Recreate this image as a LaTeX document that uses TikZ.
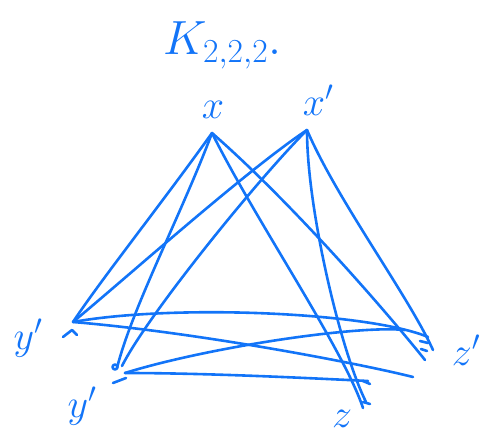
\RequirePackage{fix-cm}
\documentclass[tikz,border=0pt]{standalone}
\definecolor{ink}{RGB}{18,116,248}
\begin{document}
\begin{tikzpicture}[x=1pt,y=-1pt,
  edge/.style={draw=ink,line width=2.6pt,line cap=round,line join=round},
  penmark/.style={draw=ink,line width=2.6pt,line cap=round,line join=round},
  lab/.style={text=ink,inner sep=0pt,font=\fontsize{40}{44}\selectfont},
  title/.style={text=ink,inner sep=0pt,font=\fontsize{48}{52}\selectfont}]
\useasboundingbox (0,0) rectangle (496,438);
% vertices and edge ends
\coordinate (x) at (212,133);
\coordinate (xp) at (307,130);
\coordinate (y1) at (73,322);
\coordinate (y2a) at (117,368);
\coordinate (y2b) at (125,373);
\coordinate (y2c) at (122,366);
\coordinate (zpA) at (433,350);
\coordinate (zpB) at (425,360);
\coordinate (zpC) at (428,337);
\coordinate (zpD) at (405,330);
\coordinate (zA) at (413,377);
\coordinate (zB) at (368,381);
\coordinate (zC) at (363,408);
\coordinate (zD) at (366,402);
% edges
\draw[edge] (x) .. controls +(-50,70) and +(30,-45) .. (y1);
\draw[edge] (x) .. controls +(-30,80) and +(15,-60) .. (y2a);
\draw[edge] (x) .. controls +(45,90) and +(-20,-60) .. (zC);
\draw[edge] (x) .. controls +(80,70) and +(-40,-50) .. (zpB);
\draw[edge] (xp) .. controls +(-60,40) and +(60,-50) .. (y1);
\draw[edge] (xp) .. controls +(-50,50) and +(25,-50) .. (y2c);
\draw[edge] (xp) .. controls +(0,80) and +(-25,-50) .. (zD);
\draw[edge] (xp) .. controls +(30,70) and +(-25,-55) .. (zpA);
\draw[edge] (y1) .. controls +(100,-18) and +(-60,-25) .. (zpC);
\draw[edge] (y1) .. controls +(120,10) and +(-60,-15) .. (zA);
\draw[edge] (y2b) .. controls +(80,-25) and +(-50,-5) .. (zpD);
\draw[edge] (y2b) .. controls +(80,0) and +(-60,-3) .. (zB);
% small pen marks
\draw[penmark] (63,337) -- (72,330) -- (77,335);
\draw[penmark] (115,367) circle (2.5);
\draw[penmark] (113,383) -- (126,378);
\draw[penmark] (420,341) -- (428,343);
\draw[penmark] (421,349) -- (427,351);
\draw[penmark] (363,381) -- (370,384);
\draw[penmark] (363,402) -- (370,404);
% labels
\node[title,anchor=base west] (lk) at (163,55) {$K_{2,2,2}.$};
\node[lab] (lx) at (213,110) {$x$};
\node[lab] (lxp) at (318,100) {$x'$};
\node[lab] (ly1) at (28,338) {$y'$};
\node[lab] (ly2) at (82,406) {$y'$};
\node[lab] (lzp) at (466,350) {$z'$};
\node[lab] (lz) at (342,419) {$z$};
\end{tikzpicture}
\end{document}
